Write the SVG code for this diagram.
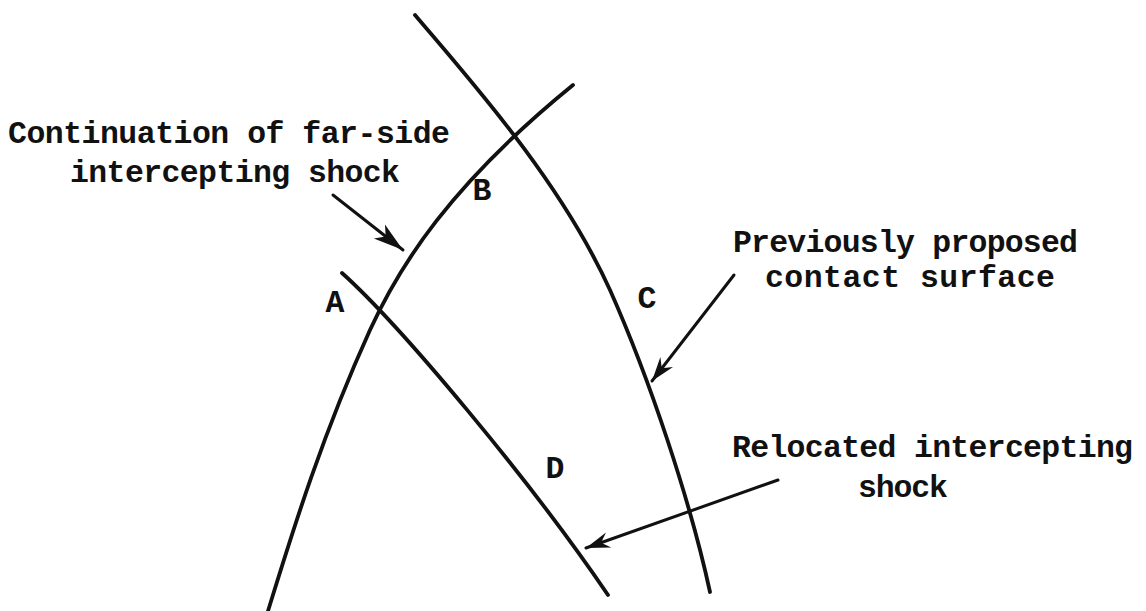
<svg xmlns="http://www.w3.org/2000/svg" width="1146" height="611" viewBox="0 0 1146 611">
<style>
.curve{fill:none;stroke:#111;stroke-width:3.8;stroke-linecap:round}
.arr{fill:none;stroke:#111;stroke-width:3;stroke-linecap:round}
text{font-family:"Liberation Mono","Courier New",monospace;font-weight:bold;font-size:31.5px;fill:#111}
.pt{text-anchor:middle}
</style>
<defs>
<marker id="headBig" markerUnits="userSpaceOnUse" markerWidth="40" markerHeight="30" refX="0" refY="0" viewBox="-34 -15 40 30" orient="auto">
<path d="M0,0 L-30,-9 L-22,0 L-30,9 Z" fill="#111"/>
</marker>
<marker id="headBarb" markerUnits="userSpaceOnUse" markerWidth="40" markerHeight="30" refX="0" refY="0" viewBox="-32 -15 40 30" orient="auto">
<path d="M0,0 L-24,-8 L-16,0 L-24,8 Z" fill="#111"/>
</marker>
</defs>
<rect width="1146" height="611" fill="#fff"/>
<g id="connectors">
<path id="far-side-shock" class="curve" d="M268,611 C290,540 320,440 370,330 C400,265 450,185 573,85"/>
<path id="contact-surface" class="curve" d="M415,15 C470,80 560,180 610,290 C650,380 690,500 710,592"/>
<path id="relocated-shock" class="curve" d="M342,273 C400,325 530,480 608,595"/>
<line class="arr" x1="333" y1="195" x2="403" y2="250" marker-end="url(#headBig)"/>
<line class="arr" x1="734" y1="275" x2="652" y2="381" marker-end="url(#headBarb)"/>
<line class="arr" x1="778" y1="480" x2="586" y2="548" marker-end="url(#headBarb)"/>
</g>
<g id="label-continuation">
<text x="8" y="143" textLength="442" lengthAdjust="spacing">Continuation of far-side</text>
<text x="70" y="182" textLength="330" lengthAdjust="spacing">intercepting shock</text>
</g>
<g id="label-contact">
<text x="733" y="252" textLength="345" lengthAdjust="spacing">Previously proposed</text>
<text x="765" y="287" textLength="290" lengthAdjust="spacing">contact surface</text>
</g>
<g id="label-relocated">
<text x="732" y="457" textLength="401" lengthAdjust="spacing">Relocated intercepting</text>
<text x="858" y="497" textLength="90" lengthAdjust="spacing">shock</text>
</g>
<g id="point-A"><text class="pt" x="335" y="312">A</text></g>
<g id="point-B"><text class="pt" x="482" y="200">B</text></g>
<g id="point-C"><text class="pt" x="647" y="308">C</text></g>
<g id="point-D"><text class="pt" x="555" y="478">D</text></g>
</svg>
